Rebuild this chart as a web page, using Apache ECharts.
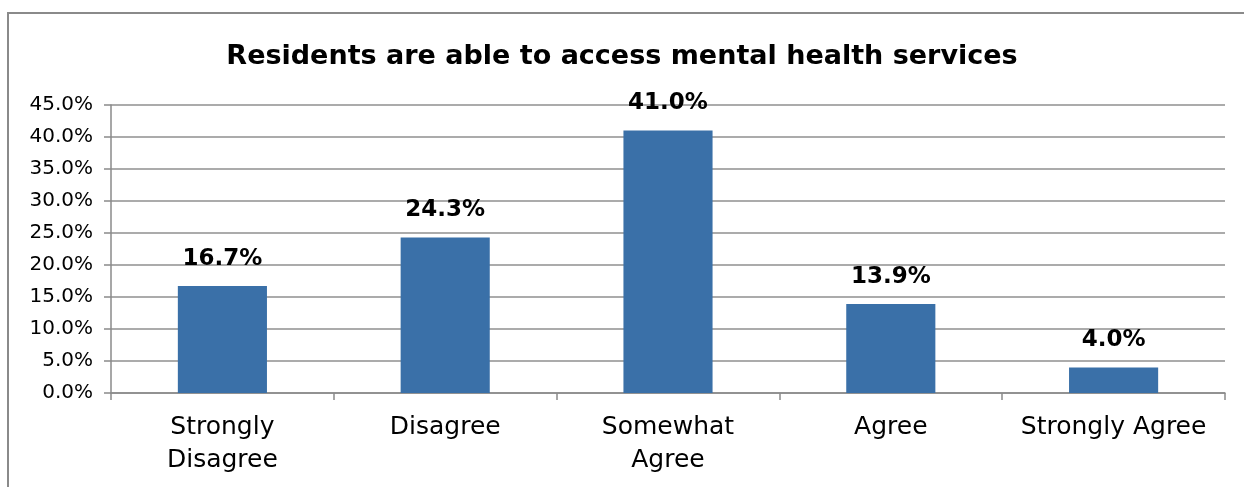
<!DOCTYPE html>
<html>
<head>
<meta charset="utf-8">
<style>
  html, body { margin: 0; padding: 0; background: #fff; }
  #frame { position: absolute; left: 7px; top: 12px; width: 1237px; height: 475px;
           border-left: 2px solid #8a8a8a; border-top: 2px solid #8a8a8a; box-sizing: border-box; }
  #chart { position: absolute; left: 0; top: 0; width: 1244px; height: 487px; }
</style>
<script src="https://cdn.jsdelivr.net/npm/echarts@6/dist/echarts.min.js"></script>
</head>
<body>
<div id="frame"></div>
<div id="chart"></div>
<script>
const categories = ["Strongly Disagree", "Disagree", "Somewhat Agree", "Agree", "Strongly Agree"];
const categoryLabels = ["Strongly\nDisagree", "Disagree", "Somewhat\nAgree", "Agree", "Strongly Agree"];
const shares = [16.7, 24.3, 41.0, 13.9, 4.0];

const chart = echarts.init(document.getElementById('chart'), null, { renderer: 'canvas' });
chart.setOption({
  animation: false,
  backgroundColor: 'transparent',
  title: {
    text: 'Residents are able to access mental health services',
    left: 'center',
    top: 38,
    textStyle: { fontFamily: 'DejaVu Sans', fontWeight: 'bold', fontSize: 27, color: '#000' }
  },
  grid: { left: 111, right: 19, top: 105, bottom: 94 },
  xAxis: {
    type: 'category',
    data: categories,
    axisLine: { lineStyle: { color: '#8a8a8a', width: 1.5 } },
    axisTick: { show: true, alignWithLabel: false, length: 7, lineStyle: { color: '#8a8a8a', width: 1.5 } },
    axisLabel: {
      margin: 18,
      fontFamily: 'DejaVu Sans',
      fontSize: 25,
      lineHeight: 33,
      color: '#000',
      interval: 0,
      formatter: (v, i) => categoryLabels[i]
    }
  },
  yAxis: {
    type: 'value',
    min: 0,
    max: 45,
    interval: 5,
    axisLine: { show: true, lineStyle: { color: '#8a8a8a', width: 1.5 } },
    axisTick: { show: true, length: 7, lineStyle: { color: '#8a8a8a', width: 1.5 } },
    splitLine: { lineStyle: { color: '#8f8f8f', width: 1.5 } },
    axisLabel: {
      margin: 18,
      fontFamily: 'DejaVu Sans',
      fontSize: 20,
      color: '#000',
      formatter: v => v.toFixed(1) + '%'
    }
  },
  series: [{
    type: 'bar',
    data: shares,
    barWidth: '40%',
    itemStyle: { color: '#3a70a8' },
    label: {
      show: true,
      position: 'top',
      distance: 16,
      fontFamily: 'DejaVu Sans',
      fontWeight: 'bold',
      fontSize: 23,
      color: '#000',
      formatter: p => p.value.toFixed(1) + '%'
    }
  }]
});
</script>
</body>
</html>
